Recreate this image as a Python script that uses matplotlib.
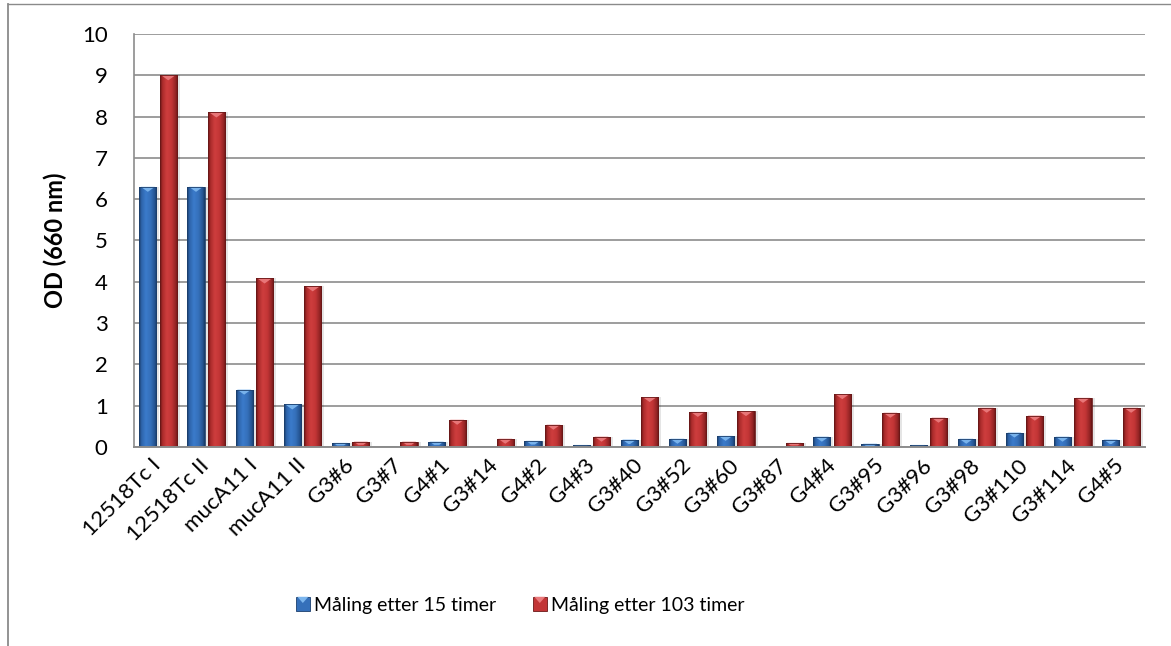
import numpy as np
import matplotlib
matplotlib.use("Agg")
import matplotlib.pyplot as plt
from matplotlib.colors import LinearSegmentedColormap
from matplotlib.patches import Rectangle, Polygon
from matplotlib.legend_handler import HandlerBase
from matplotlib.lines import Line2D

plt.rcParams["font.family"] = ["Lato", "DejaVu Sans"]

strains = ["12518Tc I", "12518Tc II", "mucA11 I", "mucA11 II", "G3#6", "G3#7",
           "G4#1", "G3#14", "G4#2", "G4#3", "G3#40", "G3#52", "G3#60", "G3#87",
           "G4#4", "G3#95", "G3#96", "G3#98", "G3#110", "G3#114", "G4#5"]
od_15h = [6.3, 6.3, 1.39, 1.03, 0.10, 0.01, 0.13, 0.01, 0.15, 0.05, 0.18,
          0.20, 0.27, 0.01, 0.25, 0.08, 0.05, 0.20, 0.35, 0.25, 0.18]
od_103h = [9.0, 8.1, 4.08, 3.89, 0.13, 0.13, 0.66, 0.20, 0.54, 0.25, 1.21,
           0.85, 0.87, 0.10, 1.28, 0.83, 0.71, 0.95, 0.76, 1.19, 0.95]
series_names = ["Måling etter 15 timer", "Måling etter 103 timer"]
y_ticks = list(range(0, 11))

W, H, DPI = 1171, 646, 100
fig = plt.figure(figsize=(W / DPI, H / DPI), dpi=DPI)
ax_left, ax_right, ax_top, ax_bottom = 134, 1145, 34, 447
ax = fig.add_axes([ax_left / W, 1 - ax_bottom / H,
                   (ax_right - ax_left) / W, (ax_bottom - ax_top) / H])

# outer chart frame (left and top edges)
frame_col = "#8a8a8a"
fig.add_artist(Line2D([7.5 / W, 7.5 / W], [1 - 4 / H, 0], transform=fig.transFigure,
                      color=frame_col, lw=1.3))
fig.add_artist(Line2D([7.5 / W, 1], [1 - 4 / H, 1 - 4 / H], transform=fig.transFigure,
                      color=frame_col, lw=1.0))

n = len(strains)
x = np.arange(n)
ax.set_xlim(-0.5, n - 0.5)
ax.set_ylim(0, 10)

px_x = n / (ax_right - ax_left)          # data units per pixel, x
px_y = 10 / (ax_bottom - ax_top)         # data units per pixel, y

bar_w = 0.355
offset = 0.212

styles = [
    dict(stops=["#17375e", "#2d62a8", "#3b7bcb", "#3570ba", "#24528f", "#17375e"],
         face="#3570ba", bevel="#7cb6ee", edge="#1b3f6d"),
    dict(stops=["#5e1212", "#a82a2a", "#cf3e3e", "#c23536", "#902323", "#5e1212"],
         face="#c23536", bevel="#ea7a7c", edge="#6a1818"),
]

grad = np.linspace(0, 1, 64).reshape(1, -1)


def draw_series(values, xpos, st):
    cmap = LinearSegmentedColormap.from_list(
        "bar", list(zip([0, 0.12, 0.38, 0.65, 0.9, 1.0], st["stops"])))
    bars = ax.bar(xpos, values, width=bar_w, color=st["face"], edgecolor="none",
                  zorder=3)
    for rect, v in zip(bars, values):
        l, r = rect.get_x(), rect.get_x() + rect.get_width()
        # soft drop shadow
        ax.add_patch(Rectangle((r, 0), 3 * px_x, v, facecolor="#000000",
                               alpha=0.10, edgecolor="none", zorder=2))
        im = ax.imshow(grad, cmap=cmap, extent=(l, r, 0, v), aspect="auto",
                       interpolation="bicubic", zorder=3.5)
        im.set_clip_path(rect)
        # bevelled top
        hpx = min(5.0, 0.6 * v / px_y)
        if hpx > 0.3:
            e = 1.5 * px_x
            half = (r - l) / 2 - e
            inset = min(half, hpx * 1.4 * px_x)
            ax.add_patch(Polygon([(l + e, v), (r - e, v),
                                  (r - e - inset, v - hpx * px_y),
                                  (l + e + inset, v - hpx * px_y)],
                                 closed=True, facecolor=st["bevel"],
                                 edgecolor="none", alpha=0.95, zorder=4))
        ax.add_patch(Rectangle((l, 0), r - l, max(v, 1.2 * px_y),
                               facecolor="none", edgecolor=st["edge"], lw=0.6,
                               alpha=1.0 if v > 2 * px_y else 0.5, zorder=4.5))


draw_series(od_15h, x - offset, styles[0])
draw_series(od_103h, x + offset, styles[1])

grid_col = "#8c8c8c"
ax.set_yticks(y_ticks)
ax.yaxis.grid(True, color=grid_col, lw=1.2, zorder=1)
ax.set_axisbelow(True)
for s in ["top", "right"]:
    ax.spines[s].set_visible(False)
ax.spines["left"].set_color(grid_col)
ax.spines["left"].set_linewidth(1.2)
ax.spines["bottom"].set_color(grid_col)
ax.spines["bottom"].set_linewidth(1.4)
ax.spines["bottom"].set_zorder(5)

ax.tick_params(axis="y", length=0, pad=19, labelsize=16)
ax.tick_params(axis="x", length=0, pad=11, labelsize=16)
ax.set_xticks(x)
ax.set_xticklabels(strains, rotation=45, ha="right", va="center",
                   rotation_mode="anchor")
ax.set_ylabel("OD (660 nm)", fontsize=17, fontweight="bold")
ax.yaxis.set_label_coords(-0.066, 0.5)


class BevelSquare(HandlerBase):
    def __init__(self, st):
        super().__init__()
        self.st = st

    def create_artists(self, legend, orig_handle, xdescent, ydescent, width,
                       height, fontsize, trans):
        s = min(width, height)
        x0 = -xdescent + (width - s) / 2
        y0 = -ydescent + (height - s) / 2
        sq = Rectangle((x0, y0), s, s, facecolor=self.st["face"],
                       edgecolor=self.st["edge"], lw=0.6, transform=trans)
        tri = Polygon([(x0 + 1, y0 + s), (x0 + s - 1, y0 + s),
                       (x0 + s * 0.5, y0 + s * 0.55)], closed=True,
                      facecolor=self.st["bevel"], edgecolor="none",
                      transform=trans)
        return [sq, tri]


h1 = Rectangle((0, 0), 1, 1)
h2 = Rectangle((0, 0), 1, 1)
fig.legend([h1, h2], series_names, loc="center",
           bbox_to_anchor=(520 / W, 1 - 605 / H), ncol=2, frameon=False,
           fontsize=14, handlelength=0.72, handleheight=0.72,
           handletextpad=0.2, columnspacing=1.9,
           handler_map={h1: BevelSquare(styles[0]), h2: BevelSquare(styles[1])})

fig.savefig("out.png", dpi=DPI)
